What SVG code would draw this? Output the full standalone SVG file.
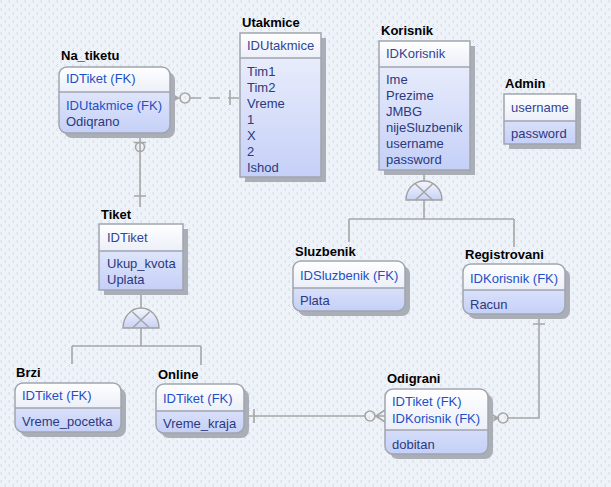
<svg xmlns="http://www.w3.org/2000/svg" width="611" height="487" viewBox="0 0 611 487">
<defs>
<pattern id="bg" width="8" height="8" patternUnits="userSpaceOnUse">
<rect width="8" height="8" fill="#eef3fa"/>
<rect x="1" y="0" width="1" height="1" fill="#d2dae7"/>
<rect x="0" y="1" width="1" height="1" fill="#d2dae7"/>
<rect x="1" y="2" width="1" height="1" fill="#d2dae7"/>
<rect x="5" y="4" width="1" height="1" fill="#d2dae7"/>
<rect x="4" y="5" width="1" height="1" fill="#d2dae7"/>
<rect x="5" y="6" width="1" height="1" fill="#d2dae7"/>
</pattern>
<linearGradient id="head" x1="0" y1="0" x2="0" y2="1">
<stop offset="0" stop-color="#ffffff"/>
<stop offset="1" stop-color="#eceff9"/>
</linearGradient>
<linearGradient id="body" x1="0" y1="0" x2="0" y2="1">
<stop offset="0" stop-color="#eff2fc"/>
<stop offset="1" stop-color="#c5d0f8"/>
</linearGradient>
<linearGradient id="sym" x1="0" y1="0" x2="0" y2="1">
<stop offset="0" stop-color="#f4f6fd"/>
<stop offset="1" stop-color="#c8d2f6"/>
</linearGradient>
</defs>
<style>
.sh{fill:#a9aeb7}
.bd{fill:url(#body)}
.hd{fill:url(#head)}
.ol{fill:none;stroke:#a0a5ae;stroke-width:1.5}
.dv{stroke:#a0a5ae;stroke-width:1.3}
.t{font-family:"Liberation Sans",Arial,sans-serif;font-size:13px}
.ttl{font-family:"Liberation Sans",Arial,sans-serif;font-size:13px;font-weight:bold;fill:#000}
.pk{fill:#304596}
.fk{fill:#1d50c6}
.at{fill:#2b397e}
.ln{fill:none;stroke:#a6a6a6;stroke-width:1.6}
.ds{fill:none;stroke:#a6a6a6;stroke-width:1.6;stroke-dasharray:11 8}
.sy{fill:url(#sym);stroke:#a0a0a0;stroke-width:1.4}
</style>
<rect width="611" height="487" fill="url(#bg)"/>

<g id="connectors">
<!-- Korisnik subtype -->
<path class="ln" d="M424,170 V182 M424,200 V219 M349,219 H514 M349,219 V242 M514,219 V247"/>
<path class="sy" d="M406,200 A18,19 0 0 1 442,200 Z"/>
<path class="ln" d="M415.5,184 L432.5,200 M432.5,184 L415.5,200" stroke-width="1.2"/>
<!-- Tiket subtype -->
<path class="ln" d="M141,290 V309 M141,328 V346 M72,346 H201 M72,346 V364 M201,346 V365"/>
<path class="sy" d="M123,328 A18,20 0 0 1 159,328 Z"/>
<path class="ln" d="M132.5,312 L149.5,328 M149.5,312 L132.5,328" stroke-width="1.2"/>
<!-- Na_tiketu - Utakmice -->
<path class="ln" d="M170,98 H180 M170,93 L178,98 L170,103"/>
<circle class="ln" cx="185" cy="98" r="5"/>
<path class="ds" d="M190,98 H240"/>
<path class="ln" d="M230,90 V105"/>
<!-- Na_tiketu - Tiket -->
<path class="ln" d="M140,133 V207 M134,142.5 H146 M134,196 H146"/>
<circle class="ln" cx="140" cy="147" r="4.5"/>
<!-- Online - Odigrani -->
<path class="ln" d="M244,416 H365 M375,416 H385 M254,409 V423 M385,410 L376,416 L385,422"/>
<circle class="ln" cx="370" cy="416" r="5"/>
<!-- Registrovani - Odigrani -->
<path class="ln" d="M539,314 V418 H508 M498,418 H488 M533,324 H545 M488,412.5 L498,418 L488,423.5"/>
<circle class="ln" cx="503" cy="418" r="5"/>
</g>

<g id="Na_tiketu">
<rect class="sh" x="64" y="72" width="111" height="66" rx="8"/>
<rect class="bd" x="59" y="67" width="111" height="66" rx="8"/>
<path class="hd" d="M59,92 V75 A8,8 0 0 1 67,67 H162 A8,8 0 0 1 170,75 V92 Z"/>
<line class="dv" x1="59" y1="92" x2="170" y2="92"/>
<rect class="ol" x="59" y="67" width="111" height="66" rx="8"/>
<text class="ttl" x="61" y="60">Na_tiketu</text>
<text class="t fk" x="66" y="83">IDTiket (FK)</text>
<text class="t fk" x="66" y="110">IDUtakmice (FK)</text>
<text class="t at" x="66" y="126">Odiqrano</text>
</g>

<g id="Utakmice">
<rect class="sh" x="245" y="38" width="81" height="144"/>
<rect class="bd" x="240" y="33" width="81" height="144"/>
<rect class="hd" x="240" y="33" width="81" height="25"/>
<line class="dv" x1="240" y1="58" x2="321" y2="58"/>
<rect class="ol" x="240" y="33" width="81" height="144"/>
<text class="ttl" x="242" y="27">Utakmice</text>
<text class="t pk" x="247" y="50">IDUtakmice</text>
<text class="t at" x="247" y="75.5">Tim1</text>
<text class="t at" x="247" y="91.5">Tim2</text>
<text class="t at" x="247" y="107.5">Vreme</text>
<text class="t at" x="247" y="123.5">1</text>
<text class="t at" x="247" y="139.5">X</text>
<text class="t at" x="247" y="155.5">2</text>
<text class="t at" x="247" y="171.5">Ishod</text>
</g>

<g id="Korisnik">
<rect class="sh" x="384" y="46" width="91" height="129"/>
<rect class="bd" x="379" y="41" width="91" height="129"/>
<rect class="hd" x="379" y="41" width="91" height="26"/>
<line class="dv" x1="379" y1="67" x2="470" y2="67"/>
<rect class="ol" x="379" y="41" width="91" height="129"/>
<text class="ttl" x="381" y="35">Korisnik</text>
<text class="t pk" x="386" y="58">IDKorisnik</text>
<text class="t at" x="386" y="84">Ime</text>
<text class="t at" x="386" y="100">Prezime</text>
<text class="t at" x="386" y="116">JMBG</text>
<text class="t at" x="386" y="132">nijeSluzbenik</text>
<text class="t at" x="386" y="148">username</text>
<text class="t at" x="386" y="164">password</text>
</g>

<g id="Admin">
<rect class="sh" x="509" y="99" width="72" height="50"/>
<rect class="bd" x="504" y="94" width="72" height="50"/>
<rect class="hd" x="504" y="94" width="72" height="27"/>
<line class="dv" x1="504" y1="121" x2="576" y2="121"/>
<rect class="ol" x="504" y="94" width="72" height="50"/>
<text class="ttl" x="505" y="88">Admin</text>
<text class="t pk" x="511" y="111.5">username</text>
<text class="t at" x="511" y="137.5">password</text>
</g>

<g id="Tiket">
<rect class="sh" x="104" y="229" width="84" height="66"/>
<rect class="bd" x="99" y="224" width="84" height="66"/>
<rect class="hd" x="99" y="224" width="84" height="27"/>
<line class="dv" x1="99" y1="251" x2="183" y2="251"/>
<rect class="ol" x="99" y="224" width="84" height="66"/>
<text class="ttl" x="101" y="218.5">Tiket</text>
<text class="t pk" x="107" y="241.5">IDTiket</text>
<text class="t at" x="107" y="267.5">Ukup_kvota</text>
<text class="t at" x="107" y="283.5">Uplata</text>
</g>

<g id="Brzi">
<rect class="sh" x="20" y="388" width="106" height="49" rx="8"/>
<rect class="bd" x="15" y="383" width="106" height="49" rx="8"/>
<path class="hd" d="M15,408 V391 A8,8 0 0 1 23,383 H113 A8,8 0 0 1 121,391 V408 Z"/>
<line class="dv" x1="15" y1="408" x2="121" y2="408"/>
<rect class="ol" x="15" y="383" width="106" height="49" rx="8"/>
<text class="ttl" x="16" y="377">Brzi</text>
<text class="t fk" x="22" y="400">IDTiket (FK)</text>
<text class="t at" x="22" y="426">Vreme_pocetka</text>
</g>

<g id="Online">
<rect class="sh" x="161" y="389" width="88" height="49" rx="8"/>
<rect class="bd" x="156" y="384" width="88" height="49" rx="8"/>
<path class="hd" d="M156,411 V392 A8,8 0 0 1 164,384 H236 A8,8 0 0 1 244,392 V411 Z"/>
<line class="dv" x1="156" y1="411" x2="244" y2="411"/>
<rect class="ol" x="156" y="384" width="88" height="49" rx="8"/>
<text class="ttl" x="158" y="378.5">Online</text>
<text class="t fk" x="163" y="402.5">IDTiket (FK)</text>
<text class="t at" x="163" y="428">Vreme_kraja</text>
</g>

<g id="Sluzbenik">
<rect class="sh" x="298" y="266" width="112" height="50" rx="8"/>
<rect class="bd" x="293" y="261" width="112" height="50" rx="8"/>
<path class="hd" d="M293,288 V269 A8,8 0 0 1 301,261 H397 A8,8 0 0 1 405,269 V288 Z"/>
<line class="dv" x1="293" y1="288" x2="405" y2="288"/>
<rect class="ol" x="293" y="261" width="112" height="50" rx="8"/>
<text class="ttl" x="295" y="256">Sluzbenik</text>
<text class="t fk" x="300" y="279.5">IDSluzbenik (FK)</text>
<text class="t at" x="300" y="304.5">Plata</text>
</g>

<g id="Registrovani">
<rect class="sh" x="468" y="269" width="102" height="50" rx="8"/>
<rect class="bd" x="463" y="264" width="102" height="50" rx="8"/>
<path class="hd" d="M463,290 V272 A8,8 0 0 1 471,264 H557 A8,8 0 0 1 565,272 V290 Z"/>
<line class="dv" x1="463" y1="290" x2="565" y2="290"/>
<rect class="ol" x="463" y="264" width="102" height="50" rx="8"/>
<text class="ttl" x="465" y="258.5">Registrovani</text>
<text class="t fk" x="470" y="283">IDKorisnik (FK)</text>
<text class="t at" x="470" y="308.5">Racun</text>
</g>

<g id="Odigrani">
<rect class="sh" x="390" y="394" width="103" height="65" rx="8"/>
<rect class="bd" x="385" y="389" width="103" height="65" rx="8"/>
<path class="hd" d="M385,430 V397 A8,8 0 0 1 393,389 H480 A8,8 0 0 1 488,397 V430 Z"/>
<line class="dv" x1="385" y1="430" x2="488" y2="430"/>
<rect class="ol" x="385" y="389" width="103" height="65" rx="8"/>
<text class="ttl" x="387" y="383">Odigrani</text>
<text class="t fk" x="392" y="406">IDTiket (FK)</text>
<text class="t fk" x="392" y="422.5">IDKorisnik (FK)</text>
<text class="t at" x="392" y="448.5">dobitan</text>
</g>
</svg>
